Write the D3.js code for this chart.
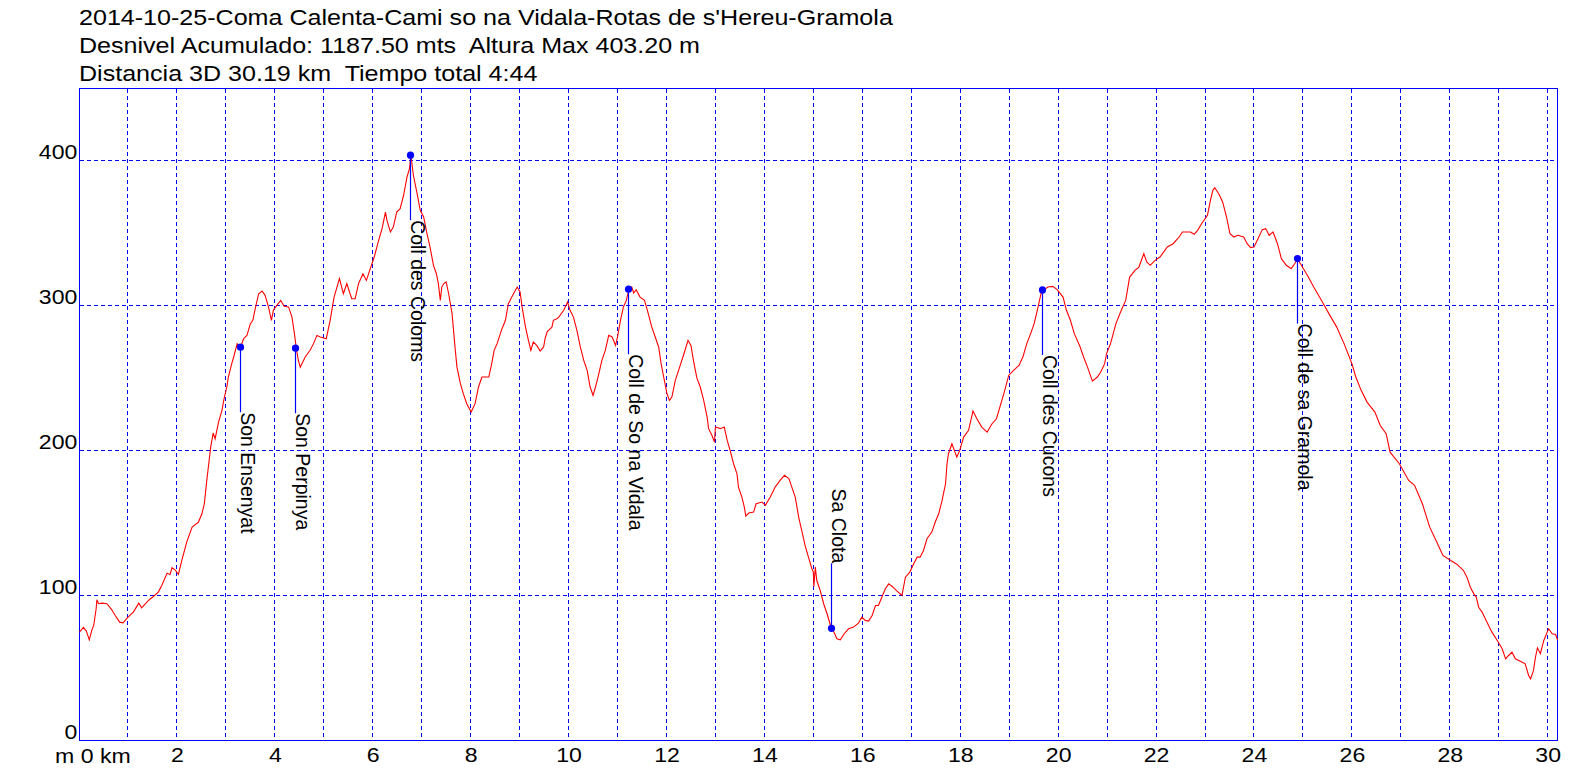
<!DOCTYPE html>
<html><head><meta charset="utf-8">
<script src="https://cdn.jsdelivr.net/npm/d3@7"></script>
<style>
body{margin:0;background:#fff}
svg{display:block}
text{font-family:"Liberation Sans",Arial,sans-serif;fill:#000}
</style>
</head><body>
<svg id="c" width="1596" height="778"></svg>
<script>
// ---------- data ----------
const titleLines = [
  "2014-10-25-Coma Calenta-Cami so na Vidala-Rotas de s'Hereu-Gramola",
  "Desnivel Acumulado: 1187.50 mts  Altura Max 403.20 m",
  "Distancia 3D 30.19 km  Tiempo total 4:44"
];
const totalKm = 30.19;
const distKm = [
0.00,0.08,0.14,0.20,0.25,0.29,0.34,0.355,0.39,0.46,0.56,0.66,0.73,0.82,0.89,0.99,1.10,1.21,1.27,1.41,1.51,1.61,1.68,1.79,1.85,1.89,1.95,2.02,2.09,2.19,2.30,2.43,2.50,2.55,2.60,2.64,2.68,2.73,2.77,2.84,2.91,2.96,3.01,3.04,3.11,3.15,3.22,3.29,3.35,3.42,3.49,3.54,3.59,3.66,3.73,3.79,3.86,3.92,3.96,4.03,4.11,4.18,4.27,4.34,4.39,4.43,4.47,4.51,4.61,4.71,4.78,4.85,4.92,5.04,5.12,5.20,5.31,5.39,5.46,5.56,5.63,5.70,5.79,5.86,5.94,6.02,6.11,6.18,6.25,6.28,6.35,6.41,6.48,6.55,6.62,6.69,6.74,6.77,6.82,6.89,6.96,7.03,7.09,7.16,7.23,7.29,7.33,7.37,7.40,7.44,7.49,7.54,7.61,7.67,7.71,7.78,7.84,7.91,8.00,8.08,8.15,8.22,8.36,8.42,8.47,8.53,8.63,8.70,8.76,8.83,8.94,9.00,9.04,9.11,9.17,9.22,9.27,9.34,9.41,9.48,9.51,9.55,9.58,9.65,9.68,9.75,9.79,9.89,9.97,10.02,10.09,10.16,10.23,10.30,10.37,10.43,10.49,10.54,10.60,10.67,10.74,10.81,10.88,10.95,10.99,11.05,11.11,11.17,11.22,11.28,11.32,11.37,11.45,11.54,11.60,11.69,11.76,11.83,11.88,11.94,12.00,12.05,12.10,12.17,12.27,12.35,12.43,12.49,12.54,12.61,12.68,12.75,12.82,12.85,12.92,12.97,12.99,13.09,13.17,13.23,13.29,13.36,13.43,13.46,13.53,13.58,13.61,13.67,13.77,13.82,13.94,14.01,14.11,14.21,14.31,14.40,14.49,14.55,14.62,14.69,14.76,14.82,14.89,14.96,14.99,15.00,15.03,15.06,15.13,15.20,15.27,15.34,15.38,15.47,15.54,15.62,15.71,15.81,15.91,15.98,16.05,16.12,16.19,16.26,16.32,16.39,16.46,16.53,16.60,16.70,16.80,16.87,16.96,17.04,17.11,17.17,17.24,17.31,17.41,17.48,17.55,17.62,17.69,17.72,17.75,17.82,17.87,17.92,17.98,18.06,18.16,18.25,18.33,18.43,18.54,18.64,18.73,18.81,18.89,18.98,19.08,19.19,19.27,19.35,19.43,19.50,19.58,19.64,19.69,19.78,19.88,19.97,20.09,20.16,20.24,20.32,20.44,20.51,20.59,20.69,20.79,20.86,20.94,20.98,21.06,21.17,21.28,21.37,21.45,21.56,21.64,21.74,21.80,21.87,21.97,22.07,22.22,22.34,22.46,22.53,22.69,22.77,22.84,22.92,23.04,23.10,23.15,23.19,23.27,23.35,23.43,23.50,23.58,23.66,23.78,23.85,23.92,23.99,24.09,24.16,24.23,24.30,24.38,24.47,24.55,24.65,24.75,24.82,24.88,24.98,25.10,25.21,25.37,25.52,25.68,25.83,25.91,25.99,26.07,26.18,26.30,26.46,26.57,26.69,26.77,26.96,27.15,27.27,27.43,27.58,27.74,27.85,28.01,28.14,28.27,28.34,28.41,28.48,28.53,28.58,28.65,28.75,28.85,28.96,29.06,29.13,29.19,29.26,29.33,29.40,29.47,29.53,29.60,29.64,29.70,29.74,29.78,29.84,29.91,29.98,30.01,30.08,30.15,30.19
];
const elevM = [
74.7,78,75.4,69.4,75.9,79.3,90.8,97,94.3,94.7,94.3,90.1,86.2,81.6,81.1,85,88.5,94.7,91.5,96.6,99.3,102.3,106.9,115.4,114.5,119.1,117.7,114.5,124.1,136.8,147.1,150.6,156.3,163.2,179.3,190.8,202.3,212,208,219.5,227.6,236.8,243.7,250.6,259.8,264.4,273.6,270.8,277,279.3,287.4,289.7,297.7,308,309.9,306.9,298.9,289.7,296.6,300,303.4,299.3,298.9,291.9,280.5,270.1,262,257.4,264.4,269,273.6,279.3,278.2,277,289.7,305.7,318.4,308,315,304.6,304.6,315,321.8,317.2,325.3,333.3,344.8,352.9,364.3,358.6,350.6,354,364.3,366.7,375.9,388.5,394.3,403.2,389.7,378.1,365.5,360.9,350.6,340.2,327.6,321.8,315,303.4,312.6,315,316.1,308,294.3,271.3,257.4,246,239.1,232.2,226.4,232.2,243.7,250.6,250.6,259.8,269,273.6,283.9,289.7,301.1,305.7,312.6,309.2,298.9,285,275.9,269,274.7,272.4,268.5,271.3,277,281.6,282.8,285,289.7,290.8,291.9,296.6,302.3,296.6,291.9,282.8,271.3,262.1,255.2,243.7,237.9,243.7,251.7,262.1,269,279.3,278.2,272.4,278.2,289.7,298.9,303.4,310.8,312.6,308.5,310.8,305.7,303.4,296.6,285,278.2,271.3,259.8,249.4,239.1,234.5,236.8,248.3,258.6,267,275.9,272.4,262.1,250,243.7,234.5,223,215,210.3,205.7,216.1,215,216.1,206.9,200,190.8,183.9,174.7,167.8,160.9,154.7,156.8,157.5,163.2,164.4,162.1,167.8,174.7,179.3,182.8,180.5,174.7,167.8,154,143.7,134.5,126.4,118.4,116.1,106,119.5,110.3,103.4,94.3,87.4,79.3,77,70.1,69.4,73.6,77,78.2,80.9,85,82.8,82.3,86.2,93.1,93.1,98.9,104.6,108,106.2,103,100,112.6,116.1,121.9,126.4,126.4,131,139.1,143.7,150.6,156.3,165.5,177,190.8,197.7,204.6,200,195.4,200,209.2,213.8,227.1,221.8,216.1,212.6,218.4,221.8,231,240.2,251.7,255.2,258.6,264.4,273.6,280.7,287.4,298.9,308,310.3,312.6,313.1,310.8,305.7,296.6,289.7,280.5,271.3,264.4,257.4,247.8,250.6,254,259.8,266.7,273.6,287.4,296.6,303.4,319.5,324.1,326.4,335.6,329.9,327.6,331,333.3,340.2,342.5,347.1,350.6,350.6,349,351.7,356.3,362.1,372.4,379.3,381.1,377,371.3,360.9,349.4,347.1,348.3,347.1,342.5,339.8,340.2,347.1,352.2,352.9,348.3,350.6,342.5,332.2,327.6,325.3,328.7,331.9,326.4,319.5,312.6,303.4,294.3,285,273.6,266.7,259.8,250.6,241.4,233.3,226.4,217.2,211.5,198.8,190.8,179.3,175.9,163.2,147.1,135.7,127.6,124.1,121.4,117.2,112.6,105.7,101.1,98.9,91.9,88.5,81.6,74.7,69,63.2,56.3,58.6,60.9,56.3,55.2,54,52.9,44.8,42.5,48.3,57.4,63.9,59.8,69,74.7,77,73.6,73.1,69.4
];
const wpNames = ["Son Ensenyat","Son Perpinya","Coll des Coloms","Coll de So na Vidala","Sa Clota","Coll des Cucons","Coll de sa Gramola"];
const wpKm = [3.29,4.43,6.77,11.22,15.38,19.69,24.88];
const wpElev = [270.8,270.1,403.2,310.8,77,310.3,331.9];
const wpLabelUp = [false,false,false,false,true,false,false];
const xTickValues = [2,4,6,8,10,12,14,16,18,20,22,24,26,28,30];
const xFirstLabel = "m 0 km";
const yTickValues = [0,100,200,300,400];
const xGridValues = d3.range(1,31);
const yGridValues = [100,200,300,400];
const yMax = 449.5;

// ---------- chart ----------
const svg = d3.select("#c");
const x = d3.scaleLinear().domain([0,totalKm]).range([79,1557]);
const y = d3.scaleLinear().domain([0,yMax]).range([740,88]);
const gx = v => Math.floor(x(v)) + 0.5;
const gy = v => Math.round(y(v)) + 0.5;
const BLUE = "#0000ff", RED = "#ff0000";

// title
svg.append("g").selectAll("text").data(titleLines).join("text")
  .attr("transform",(d,i)=>`translate(79,${[25,53,81][i]}) scale(1.14,1)`)
  .attr("xml:space","preserve").style("white-space","pre")
  .attr("font-size",22).text(d=>d);

// grid
const grid = svg.append("g").attr("stroke",BLUE).attr("stroke-width",1)
  .attr("stroke-dasharray","4,3").attr("shape-rendering","crispEdges");
grid.selectAll("line.v").data(xGridValues).join("line").attr("class","v")
  .attr("x1",gx).attr("x2",gx).attr("y1",gy(yMax)).attr("y2",gy(0));
grid.selectAll("line.h").data(yGridValues).join("line").attr("class","h")
  .attr("y1",gy).attr("y2",gy).attr("x1",gx(0)).attr("x2",gx(totalKm));

// frame
svg.append("rect").attr("x",gx(0)).attr("y",gy(yMax))
  .attr("width",gx(totalKm)-gx(0)).attr("height",gy(0)-gy(yMax))
  .attr("fill","none").attr("stroke",BLUE).attr("stroke-width",1.3)
  .attr("shape-rendering","crispEdges");

// profile
const pts = distKm.map((d,i)=>[d,elevM[i]]);
svg.append("path").datum(pts)
  .attr("d",d3.line().x(d=>x(d[0])+0.5).y(d=>y(d[1])+0.5))
  .attr("fill","none").attr("stroke",RED).attr("stroke-width",1.1);

// axes
const yAxis = svg.append("g").attr("transform",`translate(${gx(0)},0)`)
  .call(d3.axisLeft(y).tickValues(yTickValues).tickSize(0).tickPadding(2).tickFormat(d3.format("d")));
yAxis.select(".domain").remove();
yAxis.selectAll("text").attr("font-size",21).attr("font-family",null).attr("fill","#000")
  .attr("dy",0).attr("y",-1.2).attr("transform","scale(1.1,1)");

const xAxis = svg.append("g").attr("transform",`translate(0,${gy(0)})`)
  .call(d3.axisBottom(x).tickValues(xTickValues).tickSize(0).tickFormat(d3.format("d")));
xAxis.select(".domain").remove();
xAxis.selectAll("text").attr("font-size",21).attr("font-family",null).attr("fill","#000")
  .attr("dy",0).attr("y",22).attr("transform","scale(1.1,1)");
svg.append("text").attr("transform",`translate(55,${gy(0)+22}) scale(1.1,1)`)
  .attr("font-size",21).text(xFirstLabel);

// waypoints
const wp = svg.append("g").selectAll("g").data(wpNames).join("g");
wp.append("line")
  .attr("x1",(d,i)=>gx(wpKm[i])).attr("x2",(d,i)=>gx(wpKm[i]))
  .attr("y1",(d,i)=>y(wpElev[i]))
  .attr("y2",(d,i)=>y(wpElev[i]) + (wpLabelUp[i]?-65:65))
  .attr("stroke",BLUE).attr("stroke-width",1.2);
wp.append("circle")
  .attr("cx",(d,i)=>gx(wpKm[i])).attr("cy",(d,i)=>y(wpElev[i])).attr("r",3.6)
  .attr("fill",BLUE);
wp.append("text")
  .attr("transform",(d,i)=>`translate(${gx(wpKm[i])},${y(wpElev[i]) + (wpLabelUp[i]?-65:65)}) rotate(90)`)
  .attr("text-anchor",(d,i)=>wpLabelUp[i]?"end":"start")
  .attr("font-size",19.5).text(d=>d);
</script>
</body></html>
